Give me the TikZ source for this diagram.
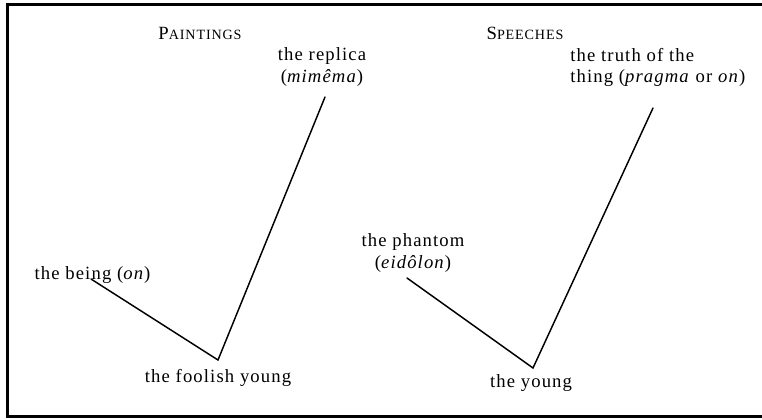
\documentclass[tikz,border=0pt]{standalone}
\usepackage{fontspec}
\setmainfont{Liberation Serif}[LetterSpace=6]
\tikzset{
  lbl/.style={inner sep=0pt, font=\fontsize{14}{16}\selectfont, text=black},
  head/.style={inner sep=0pt, font=\fontsize{14}{16}\selectfont},
  conn/.style={line width=1.1pt, line cap=round},
  frame/.style={line width=1.8pt}
}
\newcommand{\fakesc}[2]{#1{\fontsize{10.6}{12}\selectfont #2}}
\begin{document}
\begin{tikzpicture}[x=0.75pt,y=-0.75pt]
\useasboundingbox (0,0) rectangle (762,419);
% frame (right side cropped)
\draw[frame] (762,4.5) -- (7.5,4.5) -- (7.5,416.5) -- (762,416.5);
% headings
\node[head] (hp) at (200,33) {\fakesc{P}{AINTINGS}};
\node[head] (hs) at (525,33) {\fakesc{S}{PEECHES}};
% paintings
\node[lbl, align=center] (replica) at (322,67) {the replica\\(\textit{mimêma})};
\node[lbl] (being) at (92.5,275) {the being (\textit{on})};
\node[lbl] (foolish) at (218,378) {the foolish young};
\coordinate (r1) at (325,97);
\coordinate (b1) at (91,279);
\coordinate (v1) at (218,360);
\draw[conn] (b1) -- (v1) -- (r1);
% speeches
\node[lbl, align=left, anchor=west] (truth) at (570,67.5) {the truth of the\\thing (\textit{pragma} or \textit{on})};
\node[lbl, align=center] (phantom) at (413,253) {the phantom\\(\textit{eidôlon})};
\node[lbl] (young) at (531,383) {the young};
\coordinate (t2) at (653,108);
\coordinate (p2) at (407,278);
\coordinate (v2) at (533,368);
\draw[conn] (p2) -- (v2) -- (t2);
\end{tikzpicture}
\end{document}
